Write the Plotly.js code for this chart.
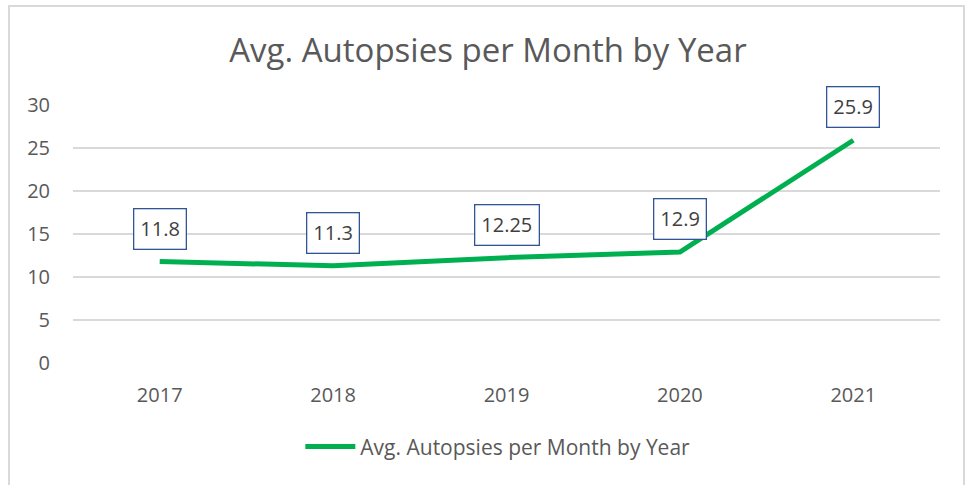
<!DOCTYPE html>
<html>
<head>
<meta charset="utf-8">
<script src="https://cdn.plot.ly/plotly-3.0.1.min.js"></script>
<style>
  html, body { margin: 0; padding: 0; background: #fff; }
  #wrap { position: relative; width: 972px; height: 485px; }
  #chart { position: absolute; left: 0; top: 0; width: 972px; height: 485px; }
  #frame { position: absolute; left: 8px; top: 5px; width: 957px; height: 490px;
           border: 2px solid #d9d9d9; box-sizing: border-box; pointer-events: none; }
</style>
</head>
<body>
<div id="wrap">
  <div id="chart"></div>
  <div id="frame"></div>
</div>
<script>
const years = ["2017", "2018", "2019", "2020", "2021"];
const avgAutopsies = [11.8, 11.3, 12.25, 12.9, 25.9];
const labelTexts = ["11.8", "11.3", "12.25", "12.9", "25.9"];
const seriesName = "Avg. Autopsies per Month by Year";
const chartTitle = "Avg. Autopsies per Month by Year";
const yTicks = [0, 5, 10, 15, 20, 25, 30];

const FONT = "'Open Sans', sans-serif";
const xIdx = years.map((_, i) => i);

const trace = {
  x: xIdx,
  y: avgAutopsies,
  type: "scatter",
  mode: "lines",
  name: seriesName,
  line: { color: "#00B050", width: 5 },
  hoverinfo: "none"
};

const annotations = xIdx.map((xi, i) => ({
  x: xi,
  y: avgAutopsies[i],
  xref: "x",
  yref: "y",
  text: labelTexts[i],
  showarrow: false,
  yshift: 33,
  font: { family: FONT, size: 20, color: "#404040" },
  bordercolor: "#2F5597",
  borderwidth: 1.3,
  borderpad: 6,
  bgcolor: "#ffffff"
}));

const layout = {
  width: 972,
  height: 485,
  margin: { l: 73, r: 32, t: 105, b: 122 },
  paper_bgcolor: "rgba(0,0,0,0)",
  plot_bgcolor: "rgba(0,0,0,0)",
  title: {
    text: chartTitle,
    font: { family: FONT, size: 33, color: "#595959" },
    x: 0.502,
    xanchor: "center",
    y: 0.895,
    yanchor: "middle"
  },
  xaxis: {
    type: "linear",
    range: [-0.5, 4.5],
    tickvals: xIdx,
    ticktext: years,
    showgrid: false,
    showline: false,
    zeroline: false,
    ticks: "",
    tickfont: { family: FONT, size: 20, color: "#595959" },
    ticklabelstandoff: 18,
    fixedrange: true
  },
  yaxis: {
    range: [0, 30],
    tickvals: yTicks,
    showgrid: true,
    gridcolor: "#d9d9d9",
    gridwidth: 1.3,
    zeroline: false,
    showline: false,
    ticks: "",
    tickfont: { family: FONT, size: 20, color: "#595959" },
    ticklabelstandoff: 22,
    fixedrange: true
  },
  showlegend: true,
  legend: {
    orientation: "h",
    x: 0.49,
    xanchor: "center",
    y: -0.325,
    yanchor: "middle",
    font: { family: FONT, size: 21, color: "#595959" },
    itemwidth: 50
  },
  annotations: annotations
};

Plotly.newPlot("chart", [trace], layout, { staticPlot: true, displayModeBar: false });
</script>
</body>
</html>
